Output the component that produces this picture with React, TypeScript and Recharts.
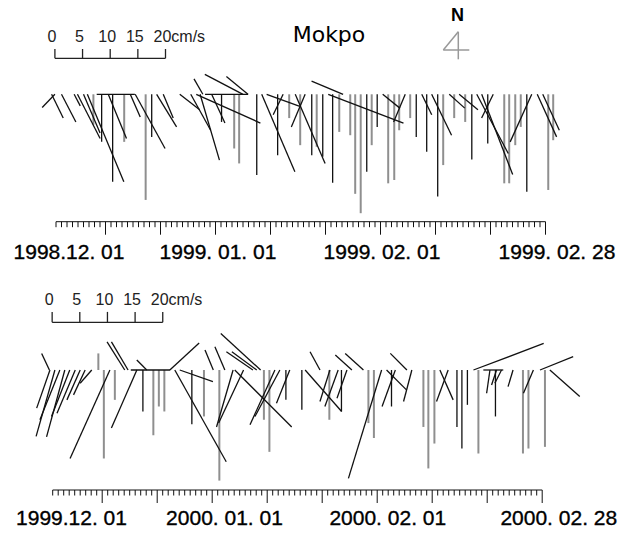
import React from 'react';
import { ComposedChart, XAxis, YAxis, Line, ReferenceLine, ReferenceDot } from 'recharts';

// ---- data: current sticks (day index from 1 Dec, u = east cm/s, v = north cm/s) ----
// Winter 1998/99
const topDateLabels = ['1998.12. 01', '1999. 01. 01', '1999. 02. 01', '1999. 02. 28'];
const topBlack: [number, number, number][] = [
  [-0.2, -2.3, -2.4], [-0.8, 2.1, -4.3], [1.0, 2.6, -5.0], [3.3, 1.1, -2.1], [3.9, 4.1, -8.0],
  [5.0, 3.0, -7.0], [5.7, 6.6, -15.8], [7.4, 6.9, 0], [8.3, 0, -8.6], [9.5, 3.3, -8.0],
  [10.3, 0, -15.8], [13.5, 1.8, -4.1], [14.4, 5.4, -9.8], [17.4, 0, -7.7], [18.3, 3.6, -5.9],
  [19.5, 1.8, -4.3], [22.5, 3.6, -2.8], [24.5, 3.6, -6.5], [25.5, 11.6, -5.2], [26.2, 3.5, -11.9],
  [26.7, -1.6, 2.8], [27.1, 7.8, 0], [28.3, 2.4, -5.2], [30.1, 0, -5.0], [34.0, -6.9, 3.6],
  [34.9, -3.9, 3.2], [36.5, 0, -14.6], [37.4, 6.0, -14.0], [38.3, 6.0, -2.2], [40.3, 0, -11.0],
  [41.3, -1.8, -3.7], [43.5, 5.4, -12.5], [45.3, -2.5, -5.9], [46.5, 0, -11.0], [48.5, 0, -11.3],
  [49.5, 13.6, -5.2], [50.3, 0, -16.0], [52.2, -5.7, 2.4], [56.5, 0, -14.0], [58.4, 0, -5.9],
  [59.4, 3.1, -2.5], [63.5, -2.1, -5.0], [65.5, 0, -7.7], [66.5, 1.8, -3.7], [67.4, 0, -10.4],
  [68.3, 3.6, -7.4], [69.4, 0, -18.5], [71.5, 2.8, -2.5], [73.3, 3.4, -2.8], [75.6, 0, -11.8],
  [76.5, 5.7, -10.7], [77.4, 5.6, -14.5], [78.5, 0, -8.9], [79.5, -2.1, -4.3], [85.6, 0, -17.6],
  [86.5, -3.9, -8.6], [87.5, 3.5, -7.7], [88.5, 3.0, -6.5],
];
const topGray: [number, number][] = [
  [6.8, -5.5], [12.4, -8.6], [16.3, -19.1], [32.4, -9.8], [33.3, -12.5], [42.4, -4.3],
  [44.4, -9.2], [47.4, -9.5], [51.5, -6.8], [53.5, -7.4], [54.4, -18.0], [55.4, -21.5],
  [57.4, -9.2], [60.4, -16.1], [61.5, -15.5], [62.4, -6.5], [64.4, -4.3], [70.4, -12.8],
  [72.4, -4.3], [74.4, -5.0], [81.5, -16.1], [82.4, -16.1], [83.5, -9.2], [84.5, -5.9],
  [89.5, -17.3], [90.4, -8.3],
];

// Winter 1999/2000
const bottomDateLabels = ['1999.12. 01', '2000. 01. 01', '2000. 02. 01', '2000. 02. 28'];
const bottomBlack: [number, number, number][] = [
  [-0.6, -1.4, 3.0], [-0.5, -2.4, -6.9], [0.4, -3.4, -12.0], [1.3, -3.6, -9.0], [2.2, -3.3, -12.1],
  [3.1, -3.3, -8.4], [4.1, -3.3, -7.8], [5.0, -2.4, -5.4], [5.9, -2.1, -4.5], [7.1, -2.1, -2.4],
  [10.4, -7.2, -16.0], [13.1, -3.2, 5.1], [13.7, -3.0, 5.1], [14.2, 7.1, 0], [15.3, -4.6, -10.5],
  [16.4, 0, -7.5], [17.1, -1.8, 1.8], [21.3, 5.3, 4.9], [22.2, 9.3, -16.6], [23.1, 6.0, -2.1],
  [25.3, 0, -9.8], [29.2, -1.5, 3.6], [31.3, -1.8, 4.2], [32.8, -3.0, -10.3], [33.1, 10.3, -10.3],
  [34.7, -4.5, -9.6], [36.4, -4.8, 3.3], [37.1, -4.5, 3.3], [37.8, -7.2, 6.6], [40.4, -4.5, -9.9],
  [41.3, -4.5, -8.4], [42.4, 0, -5.4], [43.1, -2.4, -6.0], [45.3, 0, -7.2], [45.9, 6.6, -7.5],
  [48.6, -1.8, 3.3], [50.4, -1.8, -5.7], [51.9, -2.4, -6.6], [52.5, 0, -7.5], [53.5, -1.8, -5.1],
  [54.4, -3.0, 2.7], [56.5, -3.3, 3.0], [59.8, -6.0, -19.6], [60.7, 3.6, -3.6], [61.6, 0, -6.6],
  [62.3, -2.4, -6.6], [64.4, -3.0, 3.0], [65.3, -1.5, -5.7], [70.4, 2.4, -5.4], [71.9, -2.1, -5.7],
  [73.5, 0, -10.3], [74.4, 0, -14.2], [75.4, 0, -6.3], [76.5, 12.7, 4.8], [78.3, 3.6, 0],
  [79.5, -0.6, -4.2], [80.5, 0, -8.4], [80.7, -0.9, -2.7], [81.6, -1.2, -2.4], [83.7, -0.9, -3.0],
  [87.4, -1.8, -4.2], [88.6, 6.0, 2.4], [90.4, 5.4, -4.8],
];
const bottomGray: [number, number][] = [
  [8.3, 3.0], [9.3, -16.0], [11.3, -5.4], [18.3, -11.8], [19.3, -6.6], [20.3, -7.5],
  [27.5, -8.4], [30.3, -20.0], [38.4, -9.0], [39.4, -14.8], [50.3, -9.0], [57.4, -9.6],
  [58.4, -12.3], [67.4, -10.3], [68.3, -17.8], [69.4, -13.3], [77.4, -15.1], [85.5, -15.1],
  [86.5, -14.2], [89.5, -13.9],
];

const labelDays = [0, 31, 62, 89];
const scaleValues = [0, 5, 10, 15, 20];
const DAYS = 89;
const dayTicks = Array.from({ length: DAYS + 1 }, (_, i) => i);

// ---- layout ----
const W = 630;
const PX_PER_CMS = 5.53;
const FONT = '"Liberation Sans", Arial, sans-serif';

type Layout = {
  height: number; xStart: number; xEnd: number; plotTop: number; zeroY: number; axisY: number;
  labelCenters: number[]; labelDy: number; scaleStartDay: number; scaleBarY: number;
  scaleTickLen: number; scaleTextGap: number;
};

const topLayout: Layout = {
  height: 268, xStart: 56, xEnd: 545.5, plotTop: 20, zeroY: 94.3, axisY: 221.7,
  labelCenters: [69, 218, 382, 557], labelDy: 37.5, scaleStartDay: -0.2,
  scaleBarY: 58.3, scaleTickLen: 9.3, scaleTextGap: 7.3,
};
const bottomLayout: Layout = {
  height: 265, xStart: 52.7, xEnd: 542.2, plotTop: 20, zeroY: 102, axisY: 222,
  labelCenters: [71.5, 224.5, 387.8, 558.8], labelDy: 35, scaleStartDay: -0.1,
  scaleBarY: 54.3, scaleTickLen: 10.4, scaleTextGap: 6.8,
};

function Panel({ black, gray, labels, L }: { black: [number, number, number][]; gray: [number, number][]; labels: string[]; L: Layout }) {
  const pxPerDay = (L.xEnd - L.xStart) / DAYS;
  const k = PX_PER_CMS / pxPerDay; // cm/s -> day units (isotropic sticks)
  const yMax = (L.zeroY - L.plotTop) / PX_PER_CMS;
  const yMin = -(L.axisY - L.zeroY) / PX_PER_CMS;
  const barY = (L.zeroY - L.scaleBarY) / PX_PER_CMS;
  const tickU = L.scaleTickLen / PX_PER_CMS;
  const baseline = dayTicks.map((d) => ({ day: d, zero: 0 }));

  const renderTick = (p: any) => {
    const d = Math.round(p.payload.value as number);
    const major = (d + 1) % 10 === 0;
    const li = labelDays.indexOf(d);
    return (
      <g>
        <line x1={p.x} x2={p.x} y1={p.y} y2={p.y + (major ? 13 : 5.5)} stroke="#111" strokeWidth={1} />
        {li >= 0 && (
          <text x={L.labelCenters[li]} y={p.y + L.labelDy} textAnchor="middle" fontSize={21} fontFamily={FONT}
            fill="#000" stroke="#000" strokeWidth={0.35}>
            {labels[li]}
          </text>
        )}
      </g>
    );
  };

  return (
    <ComposedChart width={W} height={L.height} data={baseline} margin={{ top: L.plotTop, right: W - L.xEnd, bottom: 0, left: L.xStart }}>
      <XAxis dataKey="day" type="number" domain={[0, DAYS]} ticks={dayTicks} interval={0} allowDataOverflow
        height={L.height - L.axisY} tickLine={false} tickSize={0} tickMargin={0}
        axisLine={{ stroke: '#111', strokeWidth: 1 }} tick={renderTick} />
      <YAxis type="number" hide domain={[yMin, yMax]} allowDataOverflow />
      <Line dataKey="zero" stroke="none" dot={false} activeDot={false} isAnimationActive={false} />
      {gray.map(([d, v], i) => (
        <ReferenceLine key={'g' + i} segment={[{ x: d, y: 0 }, { x: d, y: v }]} stroke="#8f8f8f" strokeWidth={2} ifOverflow="visible" />
      ))}
      {black.map(([d, u, v], i) => (
        <ReferenceLine key={'b' + i} segment={[{ x: d, y: 0 }, { x: d + u * k, y: v }]} stroke="#111" strokeWidth={1.3} ifOverflow="visible" />
      ))}
      {/* velocity scale bar */}
      <ReferenceLine segment={[{ x: L.scaleStartDay, y: barY }, { x: L.scaleStartDay + 20 * k, y: barY }]} stroke="#222" strokeWidth={1.3} ifOverflow="visible" />
      {scaleValues.map((s) => (
        <ReferenceLine key={'s' + s} segment={[{ x: L.scaleStartDay + s * k, y: barY }, { x: L.scaleStartDay + s * k, y: barY + tickU }]} stroke="#222" strokeWidth={1.3} ifOverflow="visible" />
      ))}
      {scaleValues.map((s, i) => (
        <ReferenceDot key={'sl' + s} x={L.scaleStartDay + s * k} y={barY + tickU} r={0} ifOverflow="visible"
          shape={(p: any) => (
            <text x={i === scaleValues.length - 1 ? p.cx - 12 : p.cx - 3} y={p.cy - L.scaleTextGap}
              textAnchor={i === scaleValues.length - 1 ? 'start' : 'middle'} fontSize={16} fontFamily={FONT} fill="#222">
              {i === scaleValues.length - 1 ? `${s}cm/s` : `${s}`}
            </text>
          )} />
      ))}
    </ComposedChart>
  );
}

export default function App() {
  return (
    <div style={{ position: 'absolute', left: 0, top: 0, width: W, height: 533, background: '#fff', overflow: 'hidden' }}>
      <div style={{ position: 'absolute', left: 0, top: 0 }}>
        <Panel black={topBlack} gray={topGray} labels={topDateLabels} L={topLayout} />
      </div>
      <div style={{ position: 'absolute', left: 0, top: 268 }}>
        <Panel black={bottomBlack} gray={bottomGray} labels={bottomDateLabels} L={bottomLayout} />
      </div>
      <svg style={{ position: 'absolute', left: 0, top: 0 }} width={W} height={70}>
        <text x={329} y={41.7} textAnchor="middle" fontSize={22} fontFamily='"DejaVu Sans", sans-serif' fill="#000">Mokpo</text>
        <text x={457.5} y={21} textAnchor="middle" fontSize={18} fontWeight="bold" fontFamily={FONT} fill="#000">N</text>
        <g stroke="#999" strokeWidth={1.5} fill="none">
          <line x1={458.3} y1={31.7} x2={458.3} y2={59.3} />
          <line x1={458.3} y1={31.7} x2={443.3} y2={50} />
          <line x1={443.3} y1={50} x2={469.3} y2={50} />
        </g>
      </svg>
    </div>
  );
}
